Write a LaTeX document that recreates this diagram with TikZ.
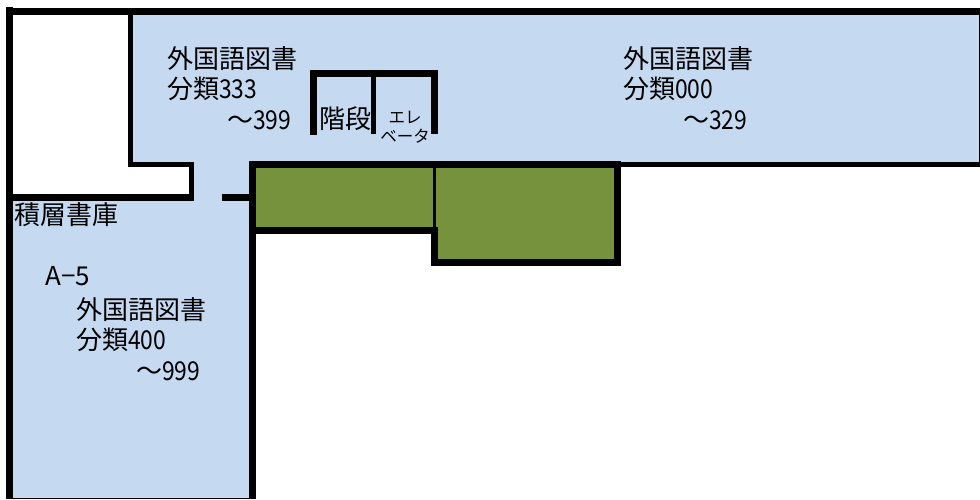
\documentclass[tikz,border=0pt]{standalone}
\usepackage{fontspec}
\setmainfont{Noto Sans CJK JP}
\newfontfamily\narrowdigits[FakeStretch=0.88]{Noto Sans CJK JP}
\usepackage{xcolor}
\usepackage{tikz}
\usetikzlibrary{positioning}

\definecolor{roomblue}{HTML}{C5D9F1}
\definecolor{roomgreen}{HTML}{76923C}

\begin{document}
\begin{tikzpicture}[
            x=1pt, y=-1pt,
            wall/.style={draw=black, line width=7pt},
            thinwall/.style={draw=black, line width=5pt},
            label/.style={anchor=north west, inner sep=0pt, align=left, font=\fontsize{26}{30.5}\selectfont},
            smalllabel/.style={inner sep=0pt, align=center, font=\fontsize{16.5}{19.5}\selectfont}
        ]
        \useasboundingbox (0,0) rectangle (980,499);

        % Rooms
        \fill[roomblue] (133,15) -- (980,15) -- (980,165) -- (249,165) -- (249,499) -- (13,499) -- (13,198) -- (191,198) -- (191,165) -- (133,165) -- cycle;
        \fill[roomgreen] (252,165) rectangle (434,230);
        \fill[roomgreen] (434,165) rectangle (618,262);

        % Outer walls
        \draw[wall] (9.5,7) -- (9.5,499);
        \draw[wall] (6,11.5) -- (980,11.5);
        \draw[wall] (252.5,161) -- (252.5,499);
        \draw[thick] (6,498.5) -- (253,498.5);
        \draw[thick] (979.5,15) -- (979.5,162);

        % Upper room walls
        \draw[thinwall] (130.5,15) -- (130.5,164.5) -- (191.5,164.5) -- (191.5,197.5);
        \draw[wall] (13,197.5) -- (194,197.5);
        \draw[wall] (222,197.5) -- (249,197.5);
        \draw[thinwall] (618,164.5) -- (980,164.5);

        % Stairs and lift
        \draw[wall] (313.5,135) -- (313.5,73.5) -- (434.5,73.5) -- (434.5,134);
        \draw[thinwall] (373.5,77) -- (373.5,134);

        % Green block
        \draw[wall] (249,164.5) -- (617.5,164.5) -- (617.5,262.5) -- (434.5,262.5) -- (434.5,227);
        \draw[wall] (256,230.5) -- (438,230.5);
        \draw[line width=3pt] (434.5,168) -- (434.5,227);

        % Labels
        \node[label] (west_books) at (167,46) {外国語図書\\分類{\narrowdigits 333}\\\hspace{60pt}～{\narrowdigits 399}};
        \node[label] (east_books) at (623,46) {外国語図書\\分類{\narrowdigits 000}\\\hspace{60pt}～{\narrowdigits 329}};
        \node[label] (stacks) at (14,202) {積層書庫};
        \node[label] (stacks_no) at (45,266) {A−5};
        \node[label] (lower_books) at (76,297) {外国語図書\\分類{\narrowdigits 400}\\\hspace{60pt}～{\narrowdigits 999}};
        \node[label] (stairs) at (319,106) {階段};
        \node[smalllabel] (lift) at (405,127) {エレ\\ベータ};
    \end{tikzpicture}
\end{document}
